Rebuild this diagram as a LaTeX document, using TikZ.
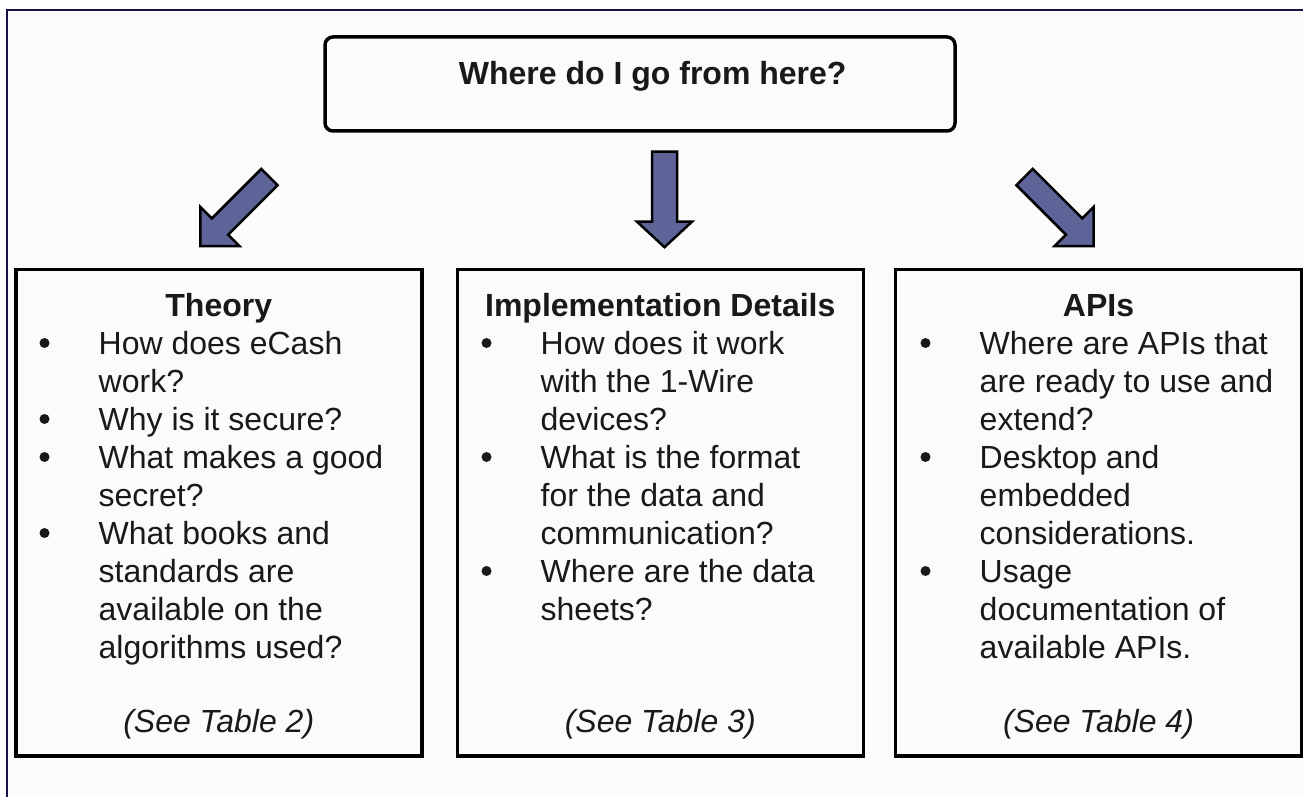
\documentclass[tikz,border=0pt]{standalone}
\usepackage{fontspec}
\setmainfont{Liberation Sans}
\definecolor{arrowfill}{RGB}{94,99,152}
\definecolor{framenavy}{RGB}{20,20,70}
\definecolor{paper}{RGB}{250,251,250}
\definecolor{ink}{RGB}{25,25,25}
\begin{document}
\begin{tikzpicture}[x=1pt,y=-1pt,
  frame/.style={draw=framenavy, line width=2.5pt},
  topbox/.style={draw=black, line width=3.5pt, rounded corners=8pt, fill=paper, inner sep=0pt},
  colbox/.style={draw=black, line width=3.5pt, fill=paper, inner sep=0pt, minimum width=406pt, minimum height=486.5pt},
  heading/.style={font=\fontsize{32}{38}\selectfont\bfseries, text=ink, anchor=base, inner sep=0pt},
  bodyline/.style={font=\fontsize{32}{38}\selectfont, text=ink, anchor=base west, inner sep=0pt},
  seeline/.style={font=\fontsize{32}{38}\selectfont\itshape, text=ink, anchor=base, inner sep=0pt},
  bulletdot/.style={circle, fill=ink, inner sep=0pt, minimum size=10pt},
  blockarrow/.style={draw=black, line width=2.5pt, fill=arrowfill, line join=miter},
]
\useasboundingbox (0,0) rectangle (1303,797);
\fill[white] (0,0) rectangle (1303,797);
\fill[paper] (7,10) rectangle (1303,797);
\draw[frame] (1303,10) -- (7,10) -- (7,797);

% top question box
\node[topbox, minimum width=630pt, minimum height=94pt] (question) at (640,84) {};
\node[heading] (qtext) at (652.7,85) {Where do I go from here?};

% block arrows
\coordinate (ltail) at (269.4,177.1);
\coordinate (mtail) at (664.5,151.7);
\coordinate (rtail) at (1024.6,177.1);
\begin{scope}[shift={(ltail)}, rotate=-135]
  \draw[blockarrow] (0,-11.5) -- (70,-11.5) -- (70,-27.5) -- (97.5,0) -- (70,27.5) -- (70,11.5) -- (0,11.5) -- cycle;
\end{scope}
\begin{scope}[shift={(mtail)}, rotate=-90]
  \draw[blockarrow] (0,-12.5) -- (70,-12.5) -- (70,-27.5) -- (95.5,0) -- (70,27.5) -- (70,12.5) -- (0,12.5) -- cycle;
\end{scope}
\begin{scope}[shift={(rtail)}, rotate=-45]
  \draw[blockarrow] (0,-11.5) -- (70,-11.5) -- (70,-27.5) -- (97.5,0) -- (70,27.5) -- (70,11.5) -- (0,11.5) -- cycle;
\end{scope}

% column boxes
\node[colbox] (theory) at (218.75,512.75) {};
\node[colbox] (impl) at (660.25,512.75) {};
\node[colbox] (apis) at (1098.5,512.75) {};

% headings
\node[heading] (theoryh) at (218.75,316) {Theory};
\node[heading] (implh) at (660.25,316) {Implementation Details};
\node[heading] (apish) at (1098.5,316) {APIs};

% Theory column
\node[bulletdot] (tb1) at (44.5,343) {};
\node[bulletdot] (tb2) at (44.5,419) {};
\node[bulletdot] (tb3) at (44.5,457) {};
\node[bulletdot] (tb4) at (44.5,533) {};
\node[bodyline] (t0) at (98.5,354) {How does eCash};
\node[bodyline] (t1) at (98.5,392) {work?};
\node[bodyline] (t2) at (98.5,430) {Why is it secure?};
\node[bodyline] (t3) at (98.5,468) {What makes a good};
\node[bodyline] (t4) at (98.5,506) {secret?};
\node[bodyline] (t5) at (98.5,544) {What books and};
\node[bodyline] (t6) at (98.5,582) {standards are};
\node[bodyline] (t7) at (98.5,620) {available on the};
\node[bodyline] (t8) at (98.5,658) {algorithms used?};
\node[seeline] (tsee) at (218.75,732) {(See Table 2)};

% Implementation column
\node[bulletdot] (mb1) at (486.5,343) {};
\node[bulletdot] (mb2) at (486.5,457) {};
\node[bulletdot] (mb3) at (486.5,571) {};
\node[bodyline] (m0) at (540.5,354) {How does it work};
\node[bodyline] (m1) at (540.5,392) {with the 1-Wire};
\node[bodyline] (m2) at (540.5,430) {devices?};
\node[bodyline] (m3) at (540.5,468) {What is the format};
\node[bodyline] (m4) at (540.5,506) {for the data and};
\node[bodyline] (m5) at (540.5,544) {communication?};
\node[bodyline] (m6) at (540.5,582) {Where are the data};
\node[bodyline] (m7) at (540.5,620) {sheets?};
\node[seeline] (msee) at (660.25,732) {(See Table 3)};

% APIs column
\node[bulletdot] (rb1) at (925.5,343) {};
\node[bulletdot] (rb2) at (925.5,457) {};
\node[bulletdot] (rb3) at (925.5,571) {};
\node[bodyline] (r0) at (979.5,354) {Where are APIs that};
\node[bodyline] (r1) at (979.5,392) {are ready to use and};
\node[bodyline] (r2) at (979.5,430) {extend?};
\node[bodyline] (r3) at (979.5,468) {Desktop and};
\node[bodyline] (r4) at (979.5,506) {embedded};
\node[bodyline] (r5) at (979.5,544) {considerations.};
\node[bodyline] (r6) at (979.5,582) {Usage};
\node[bodyline] (r7) at (979.5,620) {documentation of};
\node[bodyline] (r8) at (979.5,658) {available APIs.};
\node[seeline] (rsee) at (1098.5,732) {(See Table 4)};
\end{tikzpicture}
\end{document}
